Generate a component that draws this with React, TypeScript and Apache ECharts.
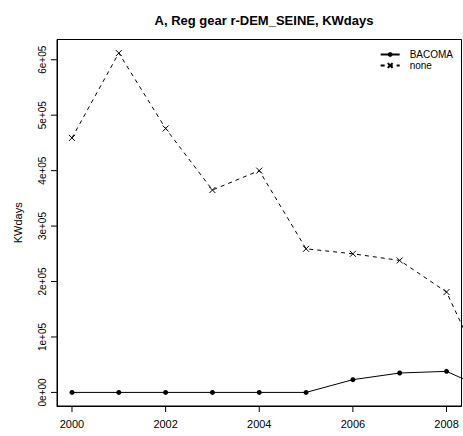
import React, { useEffect, useRef } from "react";
import * as echarts from "echarts";

const years = [2000, 2001, 2002, 2003, 2004, 2005, 2006, 2007, 2008, 2009];
const bacoma = [0, 0, 0, 0, 0, 0, 23000, 35000, 38000, 0];
const none = [459000, 612000, 476000, 365000, 400000, 259000, 250000, 238000, 181000, 0];
const xTicks = [2000, 2002, 2004, 2006, 2008];
const yTicks = [0, 100000, 200000, 300000, 400000, 500000, 600000];
const titleText = "A, Reg gear r-DEM_SEINE, KWdays";
const yName = "KWdays";

const X_MIN = 1999.68;
const X_MAX = 2008.32;
const Y_MIN = -24500;
const Y_MAX = 636500;
const TICK_LEN = 6;

const FONT = "Liberation Sans, Arial, Helvetica, sans-serif";

function sci(v: number): string {
  if (v === 0) return "0e+00";
  const e = Math.floor(Math.log10(Math.abs(v)) + 1e-9);
  const m = Math.round(v / Math.pow(10, e));
  return `${m}e+${String(e).padStart(2, "0")}`;
}

export default function App() {
  const ref = useRef<HTMLDivElement>(null);
  useEffect(() => {
    if (!ref.current) return;
    const chart = echarts.init(ref.current, null, { renderer: "svg" });
    chart.setOption({
      animation: false,
      backgroundColor: "#ffffff",
      textStyle: { fontFamily: FONT },
      title: {
        text: titleText,
        left: 259,
        top: 9,
        textAlign: "center",
        textStyle: { fontFamily: FONT, fontSize: 13, fontWeight: "bold", color: "#000" },
      },
      legend: {
        orient: "vertical",
        right: 10,
        top: 49,
        itemWidth: 19,
        itemHeight: 6,
        itemGap: 0,
        padding: 0,
        textStyle: { fontFamily: FONT, fontSize: 10, lineHeight: 11, color: "#000", padding: [0, 0, 0, 5] },
        data: ["BACOMA", "none"],
      },
      grid: {
        left: 57,
        right: 1.5,
        top: 39.5,
        bottom: 30,
        show: true,
        borderColor: "#000",
        borderWidth: 1,
      },
      xAxis: {
        type: "value",
        min: X_MIN,
        max: X_MAX,
        axisLine: { show: true, onZero: false, lineStyle: { color: "#000", width: 1 } },
        splitLine: { show: false },
        axisTick: { show: false },
        axisLabel: {
          customValues: xTicks,
          margin: 12,
          fontFamily: FONT,
          fontSize: 11,
          color: "#000",
          formatter: (v: number) => String(v),
        },
      },
      yAxis: {
        type: "value",
        min: Y_MIN,
        max: Y_MAX,
        name: yName,
        nameLocation: "middle",
        nameGap: 34,
        nameRotate: 90,
        nameTextStyle: { fontFamily: FONT, fontSize: 11, color: "#000" },
        axisLine: { show: true, onZero: false, lineStyle: { color: "#000", width: 1 } },
        splitLine: { show: false },
        axisTick: { show: false },
        axisLabel: {
          customValues: yTicks,
          rotate: 90,
          margin: 10,
          fontFamily: FONT,
          fontSize: 10,
          color: "#000",
          formatter: (v: number) => sci(v),
        },
      },
      series: [
        {
          name: "BACOMA",
          type: "line",
          data: years.map((y, i) => [y, bacoma[i]]),
          symbol: "circle",
          symbolSize: 5,
          showSymbol: true,
          clip: true,
          lineStyle: { color: "#000", width: 1, type: "solid" },
          itemStyle: { color: "#000", borderColor: "#000", borderWidth: 0 },
        },
        {
          name: "none",
          type: "line",
          data: years.map((y, i) => [y, none[i]]),
          symbol: "path://M0,0L10,10M10,0L0,10",
          symbolSize: 6,
          showSymbol: true,
          clip: true,
          lineStyle: { color: "#000", width: 1, type: [4, 4] },
          itemStyle: { color: "none", borderColor: "#000", borderWidth: 1 },
        },
        {
          type: "custom",
          clip: false,
          data: xTicks.map((v) => [v, Y_MIN]),
          renderItem: (params: any, api: any) => {
            const p = api.coord([api.value(0), api.value(1)]);
            return {
              type: "line",
              shape: { x1: p[0], y1: p[1], x2: p[0], y2: p[1] + TICK_LEN },
              style: { stroke: "#000", lineWidth: 1 },
            };
          },
        },
        {
          type: "custom",
          clip: false,
          data: yTicks.map((v) => [X_MIN, v]),
          renderItem: (params: any, api: any) => {
            const p = api.coord([api.value(0), api.value(1)]);
            return {
              type: "line",
              shape: { x1: p[0], y1: p[1], x2: p[0] - TICK_LEN, y2: p[1] },
              style: { stroke: "#000", lineWidth: 1 },
            };
          },
        },
      ],
    });
    return () => chart.dispose();
  }, []);
  return <div ref={ref} style={{ width: 463, height: 436, position: "absolute", left: 0, top: 0 }} />;
}
